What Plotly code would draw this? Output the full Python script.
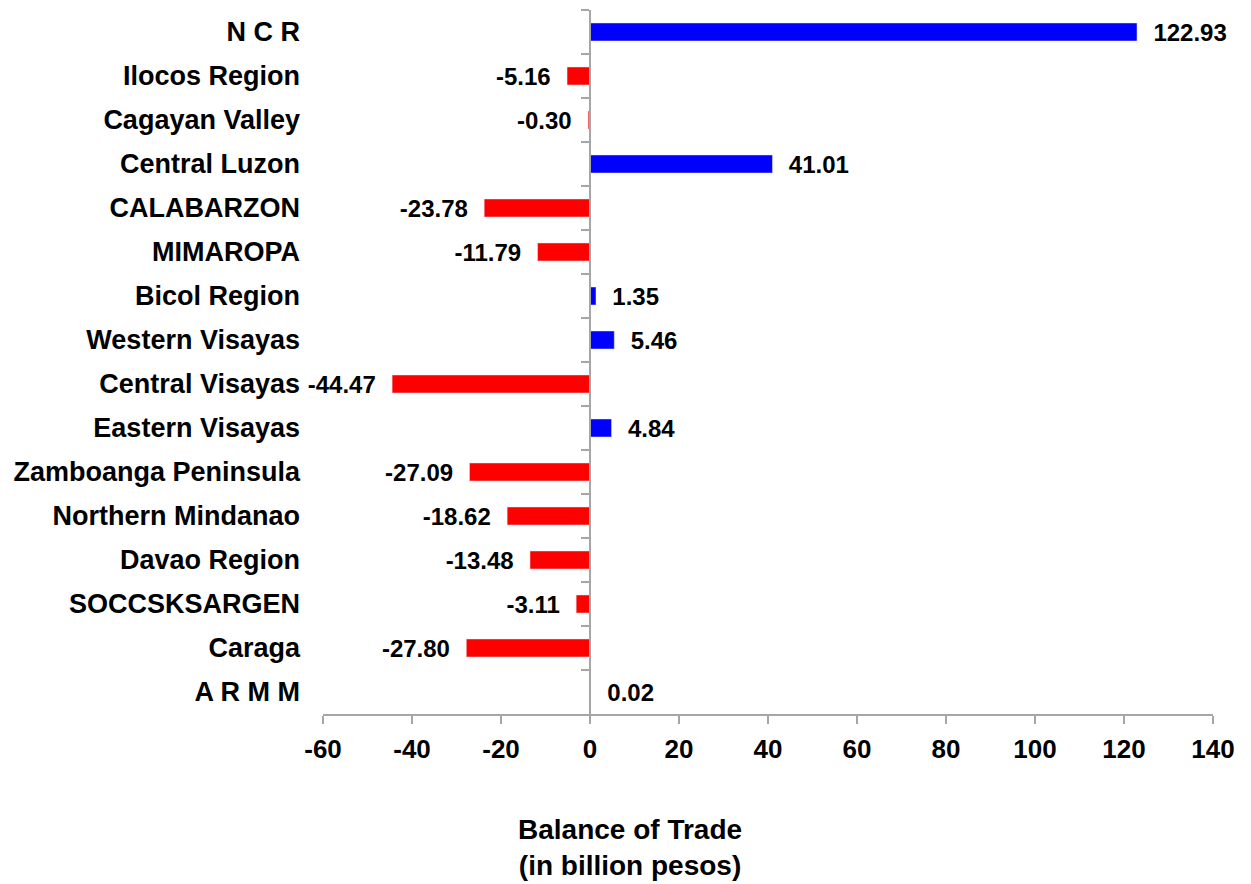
import plotly.graph_objects as go

# data
regions = ["N C R", "Ilocos Region", "Cagayan Valley", "Central Luzon", "CALABARZON",
           "MIMAROPA", "Bicol Region", "Western Visayas", "Central Visayas",
           "Eastern Visayas", "Zamboanga Peninsula", "Northern Mindanao",
           "Davao Region", "SOCCSKSARGEN", "Caraga", "A R M M"]
balance = [122.93, -5.16, -0.30, 41.01, -23.78, -11.79, 1.35, 5.46, -44.47,
           4.84, -27.09, -18.62, -13.48, -3.11, -27.80, 0.02]
x_ticks = [-60, -40, -20, 0, 20, 40, 60, 80, 100, 120, 140]
x_tick_text = ["-60", "-40", "-20", "0", "20", "40", "60", "80", "100", "120", "140"]

FONT = "Liberation Sans, Arial, sans-serif"
GREY = "#a6a6a6"
pad = "\u00a0\u00a0"

colors = ["#0000FF" if v >= 0 else "#FF0000" for v in balance]
labels = [(pad + f"{v:.2f}") if v >= 0 else (f"{v:.2f}" + pad) for v in balance]

fig = go.Figure()

# visible bars, category labels on the left axis
fig.add_trace(go.Bar(
    x=balance, y=regions, orientation="h",
    marker=dict(color=colors, line=dict(width=0)),
    text=labels, textposition="outside", constraintext="none",
    textfont=dict(family=FONT, size=24, color="black", weight="bold"),
    cliponaxis=False, showlegend=False, hoverinfo="x+y"))

# transparent copy to drive the axis line at zero
fig.add_trace(go.Bar(
    x=balance, y=regions, orientation="h", yaxis="y2",
    marker=dict(color="rgba(0,0,0,0)"), showlegend=False, hoverinfo="skip"))

# page body has an 8px margin, so the figure is sized to the rest of the window
fig.update_layout(
    width=1243, height=876,
    margin=dict(l=315, r=38, t=2, b=170),
    plot_bgcolor="white", paper_bgcolor="white",
    bargap=0.59,
    font=dict(family=FONT, color="black"),
    xaxis=dict(
        range=[-60, 140], tickmode="array", tickvals=x_ticks, ticktext=x_tick_text,
        showgrid=False, zeroline=False,
        showline=True, linecolor=GREY, linewidth=2,
        ticks="outside", ticklen=8, tickcolor=GREY, tickwidth=2,
        ticklabelstandoff=3,
        tickfont=dict(family=FONT, size=26, color="black", weight="bold")),
    yaxis=dict(
        type="category", autorange="reversed",
        showgrid=False, zeroline=False, showline=False, ticks="",
        ticklabelstandoff=22,
        tickfont=dict(family=FONT, size=27, color="black", weight="bold")),
    yaxis2=dict(
        type="category", autorange="reversed", overlaying="y",
        anchor="free", position=0.3, side="left",
        showgrid=False, zeroline=False, showticklabels=False,
        showline=True, linecolor=GREY, linewidth=2,
        ticks="outside", ticklen=8, tickcolor=GREY, tickwidth=2,
        tickson="boundaries"),
    annotations=[dict(
        text="<b>Balance of Trade<br>(in billion pesos)</b>",
        xref="paper", yref="paper", x=0.345, y=-0.19,
        xanchor="center", yanchor="middle", showarrow=False,
        font=dict(family=FONT, size=28, color="black"))],
)

fig.write_html("out.html")
